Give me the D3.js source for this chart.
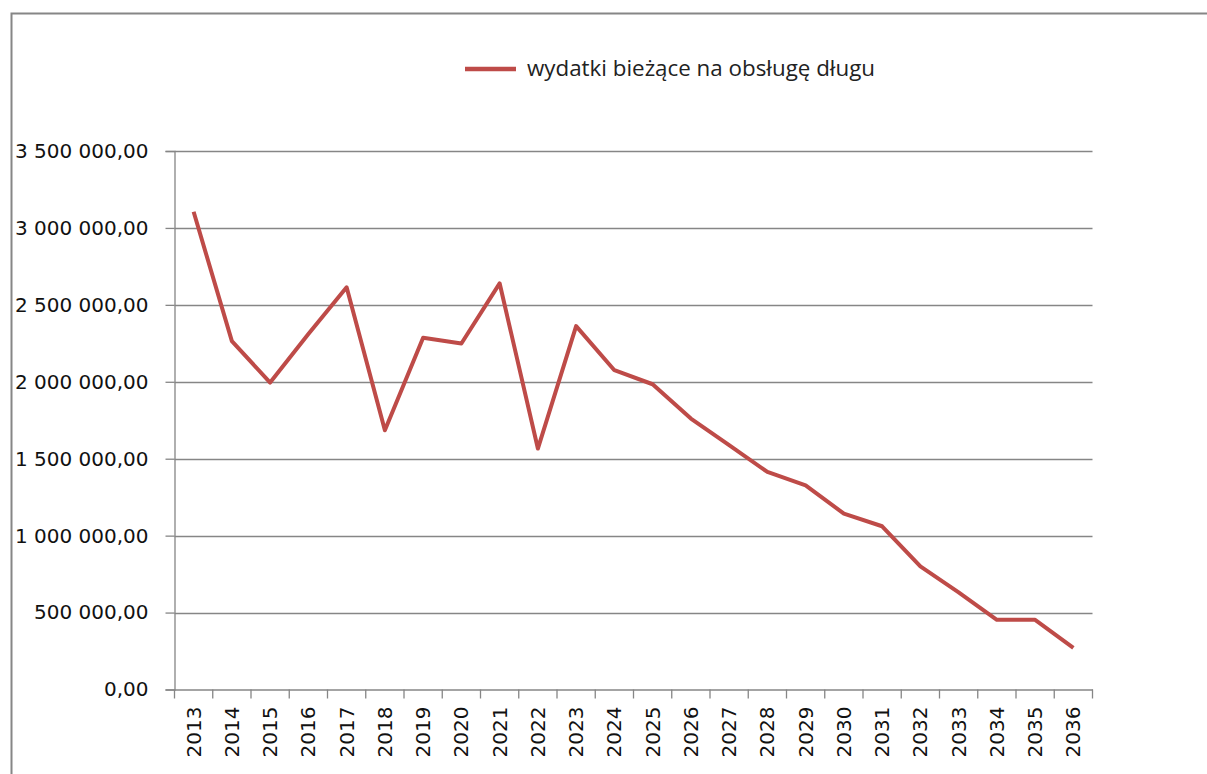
<!DOCTYPE html>
<html>
<head>
<meta charset="utf-8">
<script src="https://cdn.jsdelivr.net/npm/d3@7"></script>
<style>
  body { margin: 0; background: #fff; }
  svg { display: block; }
</style>
</head>
<body>
<script>
// lata i wartosci
var lata = [2013, 2014, 2015, 2016, 2017, 2018, 2019, 2020, 2021, 2022, 2023, 2024,
            2025, 2026, 2027, 2028, 2029, 2030, 2031, 2032, 2033, 2034, 2035, 2036];
var wydatki = [3105000, 2264000, 1995000, 2310000, 2614000, 1685000, 2286000, 2249000,
               2640000, 1566000, 2362000, 2075000, 1984000, 1761000, 1588000, 1414000,
               1327000, 1143000, 1061000, 800000, 631000, 453000, 453000, 271000];
var yTicks = [0, 500000, 1000000, 1500000, 2000000, 2500000, 3000000, 3500000];
var nazwaSerii = "wydatki bieżące na obsługę długu";

var szer = 1207, wys = 774;
var m = {left: 174.5, right: 1092.5, top: 151, bottom: 689.5};
var kolor = "#BE4B48";
var szary = "#868686";

var svg = d3.select("body").append("svg")
  .attr("width", szer)
  .attr("height", wys);

// ramka wykresu
svg.append("rect")
  .attr("x", 11.5).attr("y", 13.5)
  .attr("width", 1300).attr("height", 900)
  .attr("fill", "#fff")
  .attr("stroke", szary).attr("stroke-width", 2);

var x = d3.scaleBand().domain(lata).range([m.left, m.right]);
var y = d3.scaleLinear().domain([0, 3500000]).range([m.bottom, m.top]);

var fmt = function(v) {
  var s = d3.format(",.2f")(v);
  return s.replace(/,/g, " ").replace(".", ",");
};

// linie siatki
svg.append("g").selectAll("line")
  .data(yTicks.slice(1))
  .enter().append("line")
  .attr("x1", m.left).attr("x2", m.right)
  .attr("y1", function(d){ return Math.round(y(d)) + 0.5; })
  .attr("y2", function(d){ return Math.round(y(d)) + 0.5; })
  .attr("stroke", szary).attr("stroke-width", 1.3);

// os Y
var osY = svg.append("g")
  .attr("transform", "translate(" + m.left + ",0)")
  .call(d3.axisLeft(y).tickValues(yTicks).tickSize(9).tickPadding(17).tickFormat(fmt));
osY.selectAll("text")
  .attr("font-family", "DejaVu Sans").attr("font-size", 20).attr("fill", "#111");

// os X
var osX = svg.append("g")
  .attr("transform", "translate(0," + m.bottom + ")")
  .call(d3.axisBottom(x).tickSize(0).tickFormat(d3.format("d")));
osX.selectAll(".tick text")
  .attr("font-family", "DejaVu Sans").attr("font-size", 20).attr("fill", "#111")
  .attr("transform", "rotate(-90)")
  .attr("text-anchor", "end")
  .attr("x", -17).attr("y", 0).attr("dy", "0.35em");

// podzialki miedzy kategoriami
svg.append("g").selectAll("line")
  .data(lata.concat(["koniec"]))
  .enter().append("line")
  .attr("x1", function(d, i){ return m.left + i * x.bandwidth(); })
  .attr("x2", function(d, i){ return m.left + i * x.bandwidth(); })
  .attr("y1", m.bottom).attr("y2", m.bottom + 9)
  .attr("stroke", szary).attr("stroke-width", 1.3);

svg.selectAll(".domain").attr("stroke", szary).attr("stroke-width", 1.3);
svg.selectAll(".tick line").attr("stroke", szary).attr("stroke-width", 1.3);

// seria
var linia = d3.line()
  .x(function(d, i){ return x(lata[i]) + x.bandwidth() / 2; })
  .y(function(d){ return y(d); });

svg.append("path")
  .datum(wydatki)
  .attr("d", linia)
  .attr("fill", "none")
  .attr("stroke", kolor)
  .attr("stroke-width", 4)
  .attr("stroke-linejoin", "round");

// legenda
var leg = svg.append("g");
leg.append("line")
  .attr("x1", 465).attr("x2", 516)
  .attr("y1", 69).attr("y2", 69)
  .attr("stroke", kolor).attr("stroke-width", 4.5);
leg.append("text")
  .attr("x", 527).attr("y", 69).attr("dy", "0.32em")
  .attr("font-family", "Open Sans").attr("font-size", 21)
  .attr("textLength", 348).attr("lengthAdjust", "spacingAndGlyphs")
  .attr("fill", "#222")
  .text(nazwaSerii);
</script>
</body>
</html>
